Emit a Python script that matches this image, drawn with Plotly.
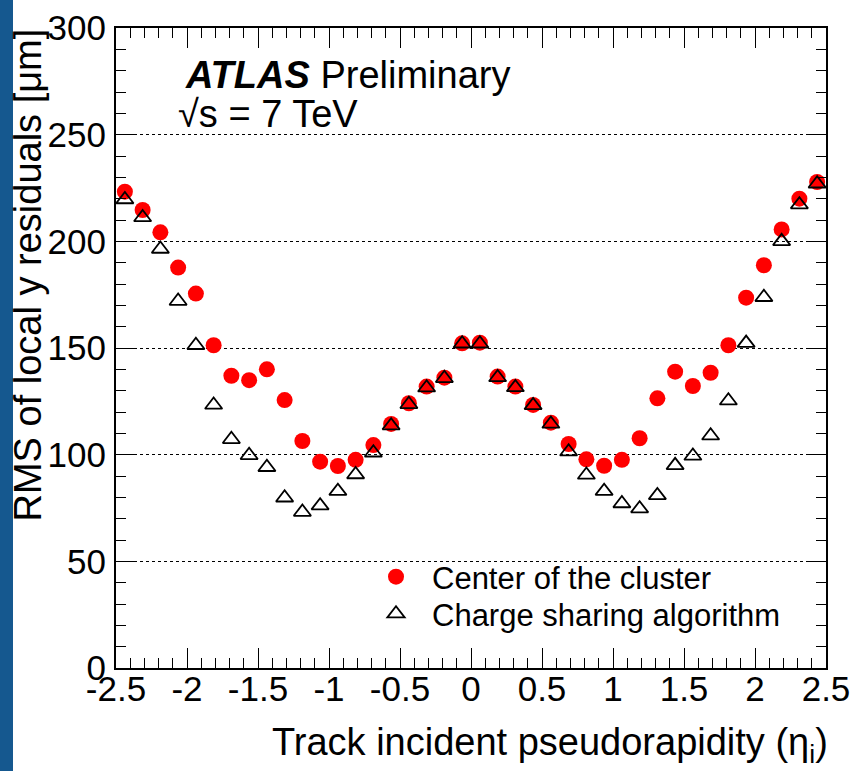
import plotly.graph_objects as go

# ---- data ----
eta = [-2.4375, -2.3125, -2.1875, -2.0625, -1.9375, -1.8125, -1.6875, -1.5625,
       -1.4375, -1.3125, -1.1875, -1.0625, -0.9375, -0.8125, -0.6875, -0.5625,
       -0.4375, -0.3125, -0.1875, -0.0625, 0.0625, 0.1875, 0.3125, 0.4375,
       0.5625, 0.6875, 0.8125, 0.9375, 1.0625, 1.1875, 1.3125, 1.4375,
       1.5625, 1.6875, 1.8125, 1.9375, 2.0625, 2.1875, 2.3125, 2.4375]

center_of_cluster = [223.3, 214.7, 204.2, 187.7, 175.5, 151.3, 137.0, 134.9,
                     140.0, 125.6, 106.4, 96.7, 94.7, 97.6, 104.5, 114.4,
                     124.1, 131.9, 136.1, 152.2, 152.5, 136.6, 131.9, 123.3,
                     115.0, 105.0, 97.8, 94.8, 97.6, 107.7, 126.4, 138.9,
                     132.2, 138.4, 151.3, 173.6, 188.8, 205.6, 220.0, 227.8]

charge_sharing = [219.6, 211.2, 196.4, 172.0, 151.3, 123.3, 107.2, 99.7,
                  94.1, 79.8, 73.1, 76.1, 82.9, 90.7, 100.9, 113.6,
                  123.6, 131.4, 135.8, 152.0, 152.0, 136.2, 131.5, 123.1,
                  114.4, 101.4, 90.5, 82.9, 77.1, 74.7, 80.9, 95.0,
                  99.4, 108.9, 125.3, 152.3, 173.8, 200.0, 217.2, 227.0]

x_tick_vals = [-2.5, -2, -1.5, -1, -0.5, 0, 0.5, 1, 1.5, 2, 2.5]
x_tick_labels = ["-2.5", "-2", "-1.5", "-1", "-0.5", "0", "0.5", "1", "1.5", "2", "2.5"]
y_tick_vals = [0, 50, 100, 150, 200, 250, 300]
y_tick_labels = ["0", "50", "100", "150", "200", "250", "300"]

FONT = "Liberation Sans, Arial, Helvetica, sans-serif"

W, H = 856, 771
ML, MR, MT, MB = 116, 30, 28, 103
PW, PH = W - ML - MR, H - MT - MB


def px(xpix):
    return (xpix - ML) / PW


def py(ypix):
    return 1 - (ypix - MT) / PH


fig = go.Figure()

fig.add_trace(go.Scatter(
    x=eta, y=center_of_cluster, mode="markers", name="Center of the cluster",
    marker=dict(symbol="circle", size=16, color="#ff0000", line=dict(width=0)),
    legend="legend",
))
fig.add_trace(go.Scatter(
    x=eta, y=charge_sharing, mode="markers", name="Charge sharing algorithm",
    marker=dict(symbol="triangle-up-open", size=15, color="#000000",
                line=dict(width=1.8, color="#000000")),
    legend="legend2",
))

axis_common = dict(
    showline=True, linecolor="black", linewidth=2, mirror="allticks",
    ticks="inside", tickcolor="black", tickwidth=1.2, ticklen=20,
    tickfont=dict(family=FONT, size=35, color="black"),
    zeroline=False, automargin=False,
)

fig.update_xaxes(
    range=[-2.5, 2.5], tickmode="array", tickvals=x_tick_vals, ticktext=x_tick_labels,
    showgrid=False, ticklabelstandoff=-11,
    minor=dict(dtick=0.1, tick0=-2.5, ticks="inside", ticklen=10, tickcolor="black",
               tickwidth=1, showgrid=False),
    **axis_common,
)
fig.update_yaxes(
    range=[0, 300], tickmode="array", tickvals=y_tick_vals, ticktext=y_tick_labels,
    showgrid=True, gridcolor="black", gridwidth=1, griddash="dot",
    ticklabelstandoff=1,
    minor=dict(dtick=10, tick0=0, ticks="inside", ticklen=10, tickcolor="black",
               tickwidth=1, showgrid=False),
    **axis_common,
)

legend_common = dict(
    xanchor="left", yanchor="middle",
    bgcolor="rgba(0,0,0,0)", borderwidth=0,
    font=dict(family=FONT, size=31, color="black"),
    itemwidth=62,
)

fig.update_layout(
    width=W, height=H,
    margin=dict(l=ML, r=MR, t=MT, b=MB, pad=0),
    paper_bgcolor="white", plot_bgcolor="white",
    font=dict(family=FONT, color="black"),
    showlegend=True,
    legend=dict(x=px(360), y=py(577), **legend_common),
    legend2=dict(x=px(360), y=py(614), **legend_common),
    shapes=[
        # blue slide strip on the left edge
        dict(type="rect", xref="paper", yref="paper",
             x0=px(0), x1=px(13), y0=py(H), y1=py(0),
             fillcolor="#15588f", line=dict(width=0), layer="below"),
        # white legend box hiding part of the 50 grid line
        dict(type="rect", xref="paper", yref="paper",
             x0=px(355), x1=px(657), y0=py(640), y1=py(545),
             fillcolor="white", line=dict(width=0), layer="between"),
    ],
    annotations=[
        dict(text="<b><i>ATLAS</i></b> Preliminary", xref="paper", yref="paper",
             x=px(183), y=py(75), xanchor="left", yanchor="middle", showarrow=False,
             font=dict(family=FONT, size=38, color="black")),
        dict(text="\u221As = 7 TeV", xref="paper", yref="paper",
             x=px(176), y=py(114), xanchor="left", yanchor="middle", showarrow=False,
             font=dict(family=FONT, size=38, color="black")),
        dict(text="RMS of local y residuals [\u03bcm]", xref="paper", yref="paper",
             x=px(27), y=py(27), xanchor="center", yanchor="top", textangle=-90,
             showarrow=False, font=dict(family=FONT, size=38, color="black")),
        dict(text="Track incident pseudorapidity (\u03b7<sub>i</sub>)", xref="paper", yref="paper",
             x=px(830), y=py(745), xanchor="right", yanchor="middle", showarrow=False,
             font=dict(family=FONT, size=38, color="black")),
    ],
)

fig.write_html("out.html", config={"displayModeBar": False},
               post_script="document.body.style.margin='0px';")
